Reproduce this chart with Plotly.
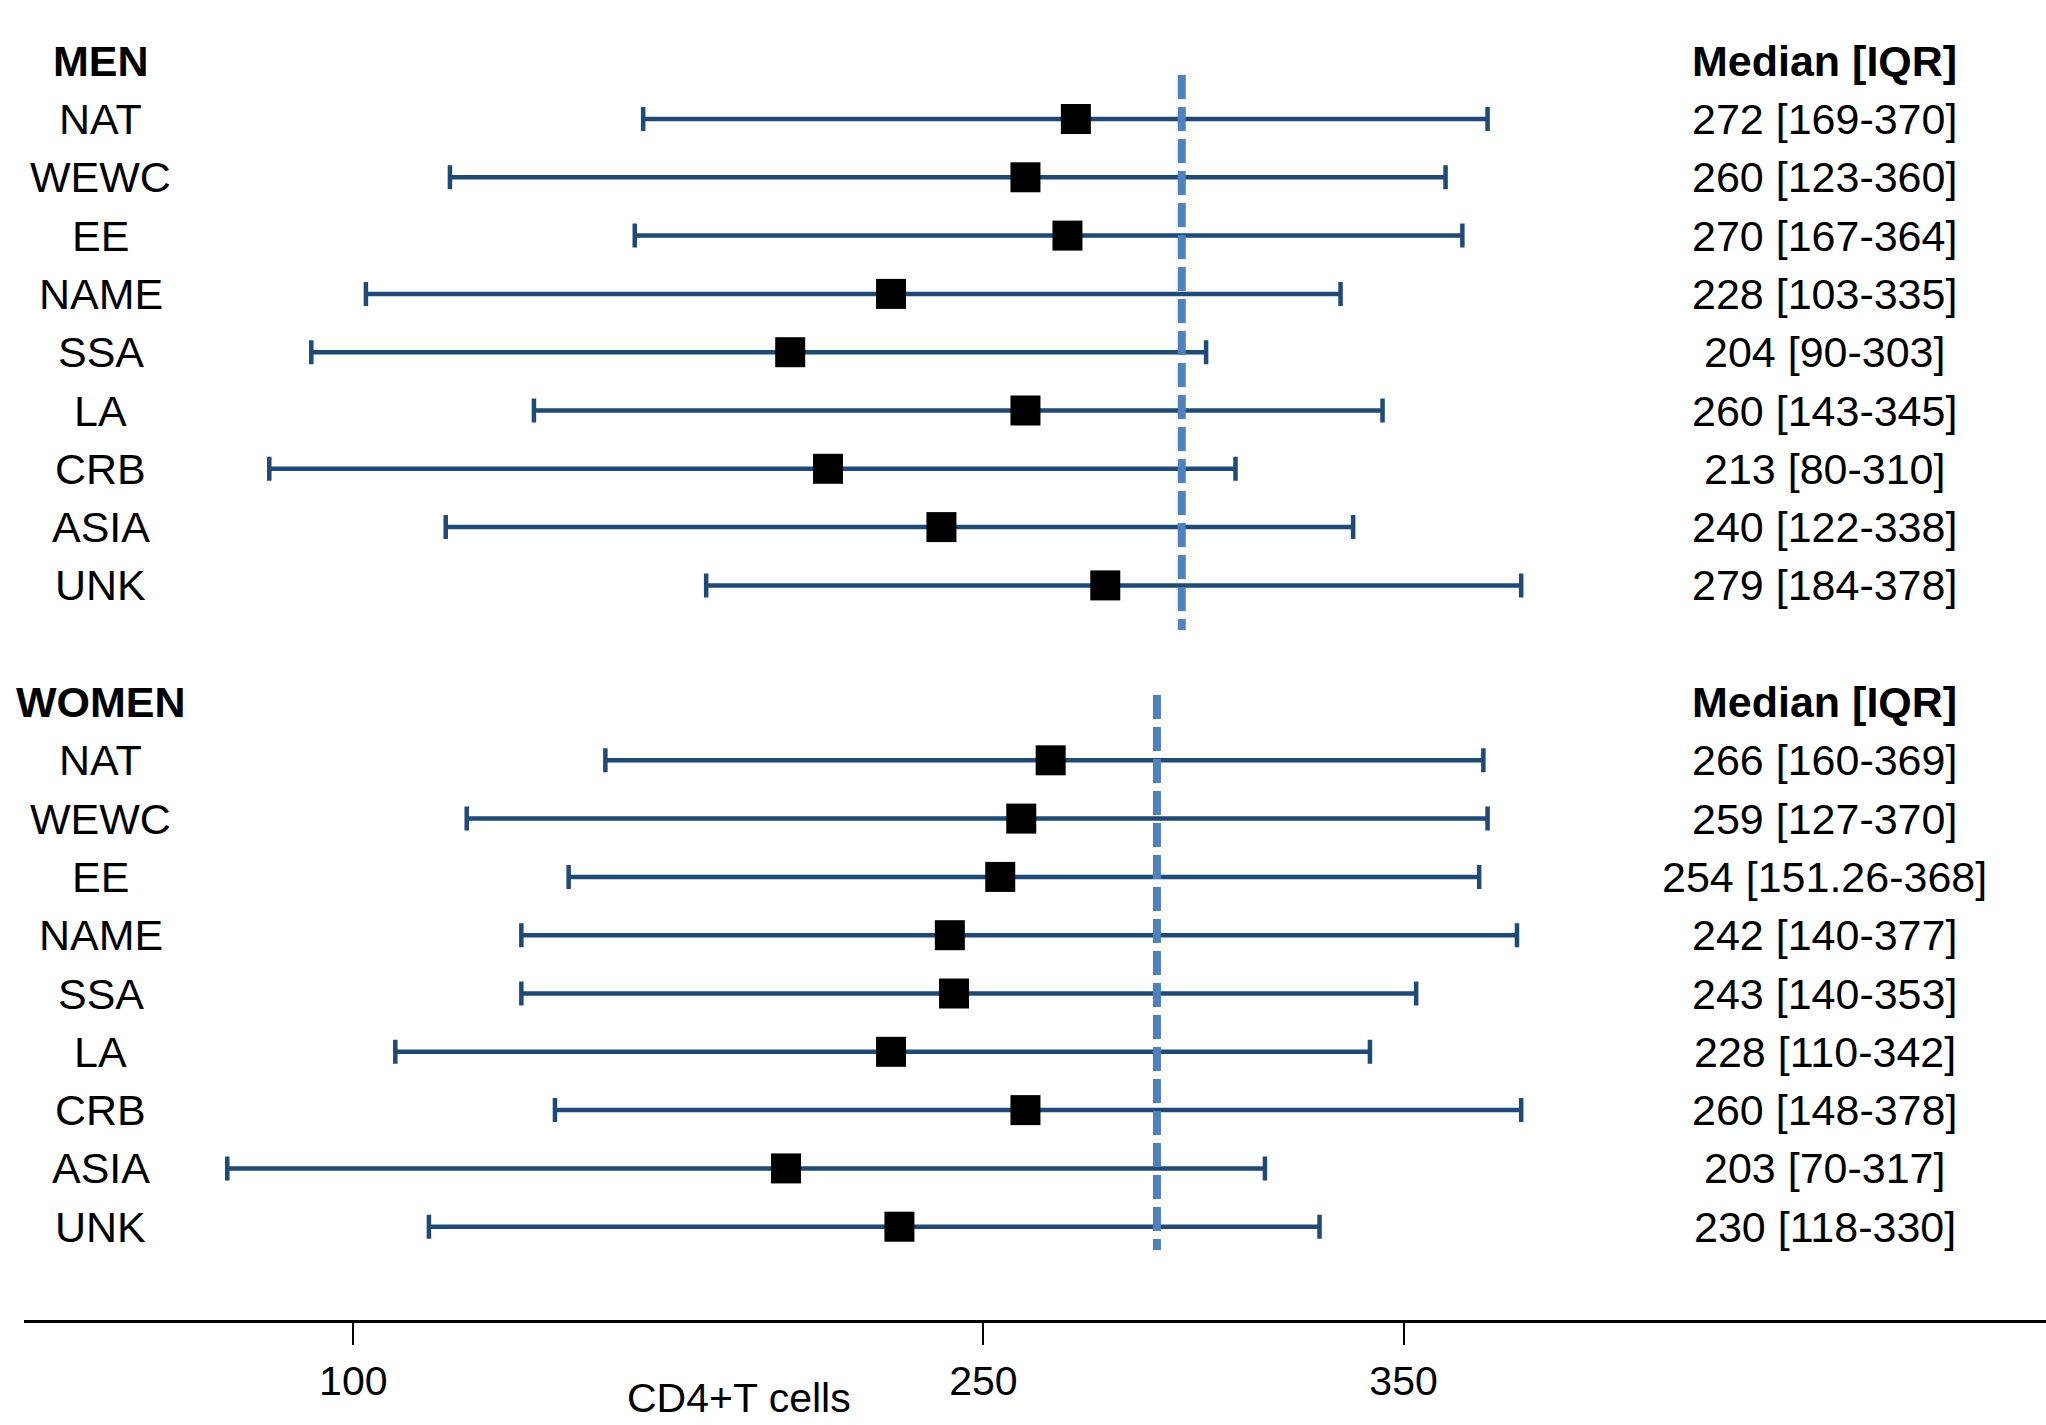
import plotly.graph_objects as go

# ---------------- data ----------------
categories = ["NAT", "WEWC", "EE", "NAME", "SSA", "LA", "CRB", "ASIA", "UNK"]
men_median = [272, 260, 270, 228, 204, 260, 213, 240, 279]
men_q1 = [169, 123, 167, 103, 90, 143, 80, 122, 184]
men_q3 = [370, 360, 364, 335, 303, 345, 310, 338, 378]
women_median = [266, 259, 254, 242, 243, 228, 260, 203, 230]
women_q1 = [160, 127, 151.26, 140, 140, 110, 148, 70, 118]
women_q3 = [369, 370, 368, 377, 353, 342, 378, 317, 330]
men_ref = 297.2
women_ref = 291.3
x_ticks = [100, 250, 350]
group_labels = ["MEN", "WOMEN"]
stat_header = "Median [IQR]"
x_title = "CD4+T cells"

# ---------------- layout constants ----------------
W, H = 2046, 1425
FONT = "Liberation Sans, Arial, sans-serif"
BAR_COLOR = "#1f4a78"
REF_COLOR = "#4f81bd"
LEFT_X = 39.9     # data x of centred left labels
RIGHT_X = 450.3   # data x of centred right labels

men_rows = list(range(1, 10))
women_rows = list(range(12, 21))


def fmt(v):
    return f"{v:g}"


fig = go.Figure()

for rows, med, q1, q3 in [(men_rows, men_median, men_q1, men_q3),
                          (women_rows, women_median, women_q1, women_q3)]:
    fig.add_trace(go.Scatter(
        x=med, y=rows, mode="markers",
        marker=dict(symbol="square", size=30, color="black",
                    line=dict(width=0)),
        error_x=dict(type="data", symmetric=False,
                     array=[h - m for h, m in zip(q3, med)],
                     arrayminus=[m - l for m, l in zip(med, q1)],
                     color=BAR_COLOR, thickness=4.5, width=12),
        showlegend=False, hoverinfo="skip",
    ))

annotations = []
# headers
for label, row in zip(group_labels, [0, 11]):
    annotations.append(dict(x=LEFT_X, y=row, xref="x", yref="y", text=f"<b>{label}</b>",
                            showarrow=False, xanchor="center", yanchor="middle",
                            font=dict(family=FONT, size=43, color="black")))
    annotations.append(dict(x=RIGHT_X, y=row, xref="x", yref="y", text=f"<b>{stat_header}</b>",
                            showarrow=False, xanchor="center", yanchor="middle",
                            font=dict(family=FONT, size=43, color="black")))

for rows, med, q1, q3 in [(men_rows, men_median, men_q1, men_q3),
                          (women_rows, women_median, women_q1, women_q3)]:
    for cat, r, m, l, h in zip(categories, rows, med, q1, q3):
        annotations.append(dict(x=LEFT_X, y=r, xref="x", yref="y", text=cat,
                                showarrow=False, xanchor="center", yanchor="middle",
                                font=dict(family=FONT, size=43, color="black")))
        annotations.append(dict(x=RIGHT_X, y=r, xref="x", yref="y",
                                text=f"{fmt(m)} [{fmt(l)}-{fmt(h)}]",
                                showarrow=False, xanchor="center", yanchor="middle",
                                font=dict(family=FONT, size=43, color="black")))

# axis title
annotations.append(dict(x=723 / W, y=-(1398 - 1320) / 1320, xref="paper", yref="paper",
                        text=x_title, showarrow=False, xanchor="center", yanchor="middle",
                        font=dict(family=FONT, size=41, color="black")))

shapes = [
    dict(type="line", xref="x", yref="y", x0=men_ref, x1=men_ref, y0=0.245, y1=9.765,
         line=dict(color=REF_COLOR, width=8, dash="24px,8px"), layer="above"),
    dict(type="line", xref="x", yref="y", x0=women_ref, x1=women_ref, y0=10.88, y1=20.4,
         line=dict(color=REF_COLOR, width=8, dash="24px,8px"), layer="above"),
]

x0v = 100 + (24 - 353.3) / 4.201
x1v = 100 + (W - 353.3) / 4.201

fig.update_layout(
    width=W, height=H,
    margin=dict(l=24, r=0, t=0, b=105),
    paper_bgcolor="white", plot_bgcolor="white",
    annotations=annotations, shapes=shapes,
    font=dict(family=FONT, color="black"),
    xaxis=dict(range=[x0v, x1v], tickvals=x_ticks, ticktext=[str(t) for t in x_ticks],
               showgrid=False, zeroline=False, showline=True, linecolor="black",
               linewidth=3, ticks="outside", ticklen=22, tickwidth=1.5,
               tickcolor="black", ticklabelstandoff=1,
               tickfont=dict(family=FONT, size=41, color="black")),
    yaxis=dict(range=[21.6, -1.041], showgrid=False, zeroline=False,
               showticklabels=False, showline=False, ticks=""),
)

fig.write_html("out.html", config={"displayModeBar": False},
               post_script="document.body.style.margin='0';document.body.style.overflow='hidden';")
